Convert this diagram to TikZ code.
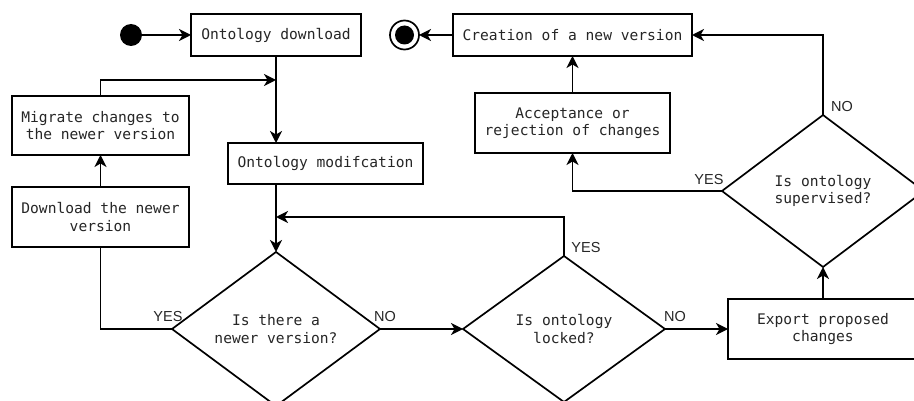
\documentclass[tikz,border=0pt]{standalone}
\usepackage{fontspec}
\usetikzlibrary{arrows.meta,shapes.geometric}
\newfontfamily\monof{DejaVu Sans Mono}
\newfontfamily\labf{Liberation Sans}
\begin{document}
\begin{tikzpicture}[x=1pt,y=-1pt,
  every node/.style={inner sep=0pt, outer sep=0pt},
  line/.style={line width=1.7pt, black},
  arr/.style={line/.try, -{Stealth[length=12pt,width=12pt,inset=3.5pt]}},
  box/.style={draw, line width=1.7pt, rectangle, align=center, font=\monof\fontsize{14.6}{17.5}\selectfont, text=black!85},
  dia/.style={draw, line width=1.7pt, diamond, aspect=1, align=center, font=\monof\fontsize{14.6}{17.5}\selectfont, text=black!85},
  lab/.style={font=\labf\fontsize{14.5}{15}\selectfont, text=black!85}]
\useasboundingbox (0,0) rectangle (914,401);
\clip (0,0) rectangle (914,401);
\fill[white] (0,0) rectangle (914,401);

% start / end
\node[circle, fill=black, minimum size=22pt] (start) at (131,35) {};
\node[circle, draw, line width=1.7pt, minimum size=29pt] (endc) at (404.5,35) {};
\node[circle, fill=black, minimum size=19pt] (endin) at (404.5,35) {};

% boxes
\node[box, minimum width=170pt, minimum height=42pt] (dl) at (276,35) {Ontology download};
\node[box, minimum width=239pt, minimum height=42pt] (cr) at (572.5,35) {Creation of a new version};
\node[box, minimum width=195pt, minimum height=41pt] (mod) at (325.5,163.5) {Ontology modifcation};
\node[box, minimum width=177pt, minimum height=59pt] (mig) at (100.5,125.5) {Migrate changes to\\the newer version};
\node[box, minimum width=177pt, minimum height=60pt] (dnv) at (100.5,217) {Download the newer\\version};
\node[box, minimum width=195pt, minimum height=60pt] (acc) at (572.5,123) {Acceptance or\\rejection of changes};
\node[box, minimum width=190pt, minimum height=60pt] (exp) at (823,329) {Export proposed\\changes};

% diamonds
\node[dia, minimum width=208pt, minimum height=154pt] (d1) at (276,329) {Is there a\\newer version?};
\node[dia, minimum width=202pt, minimum height=146pt] (d2) at (564,329) {Is ontology\\locked?};
\node[dia, minimum width=202pt, minimum height=152pt] (d3) at (823,191) {Is ontology\\supervised?};

% junctions
\coordinate (j1) at (276,80);
\coordinate (j2) at (276,217);

% connectors
\draw[arr] (start) -- (dl.west);
\draw[arr] (cr.west) -- (endc.east);
\draw[arr] (dl.south) -- (dl.south |- mod.north);
\draw[arr] (mig.north) |- (j1);
\draw[arr] (dnv.north) -- (mig.south);
\draw[line] (dnv.south) |- (d1.west);
\draw[arr] (d1.north |- mod.south) -- (d1.north);
\draw[arr] (d1.east) -- (d2.west);
\draw[arr] (d2.north) |- (j2);
\draw[arr] (d2.east) -- (exp.west);
\draw[arr] (exp.north) -- (d3.south);
\draw[arr] (d3.west) -| (acc.south);
\draw[arr] (acc.north) -- (cr.south);
\draw[arr] (d3.north) |- (cr.east);

% labels
\node[lab] (l1) at (168,317) {YES};
\node[lab] (l2) at (385,317) {NO};
\node[lab] (l3) at (586,248) {YES};
\node[lab] (l4) at (675,317) {NO};
\node[lab] (l5) at (709,180) {YES};
\node[lab] (l6) at (842,107) {NO};
\end{tikzpicture}
\end{document}
